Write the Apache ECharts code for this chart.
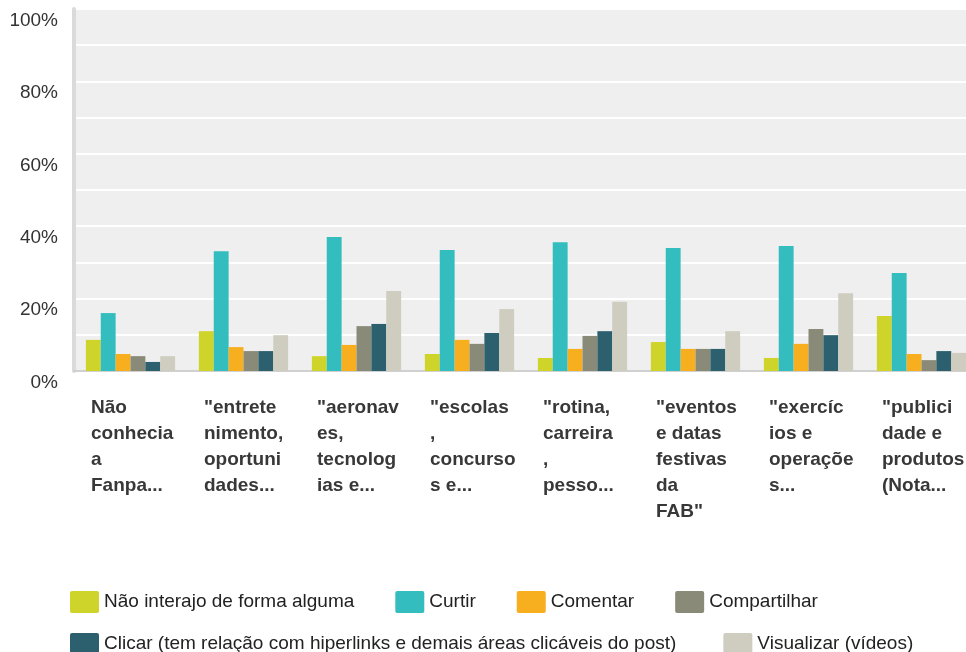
<!DOCTYPE html>
<html>
<head>
<meta charset="utf-8">
<script src="https://cdn.jsdelivr.net/npm/echarts@6/dist/echarts.min.js"></script>
<style>
  html, body { margin: 0; padding: 0; background: #fff; }
  #chart { width: 966px; height: 652px; }
</style>
</head>
<body>
<div id="chart"></div>
<script>
// categories (wrapped as in the original)
var categories = [
    'Não\nconhecia\na\nFanpa...',
    '"entrete\nnimento,\noportuni\ndades...',
    '"aeronav\nes,\ntecnolog\nias e...',
    '"escolas\n,\nconcurso\ns e...',
    '"rotina,\ncarreira\n,\npesso...',
    '"eventos\ne datas\nfestivas\nda\nFAB"',
    '"exercíc\nios e\noperaçõe\ns...',
    '"publici\ndade e\nprodutos\n(Nota...'
]

var seriesNames = [
    'Não interajo de forma alguma',
    'Curtir',
    'Comentar',
    'Compartilhar',
    'Clicar (tem relação com hiperlinks e demais áreas clicáveis do post)',
    'Visualizar (vídeos)'
]

var naoInterajo = [8.6, 11.0, 4.1, 4.7, 3.6, 8.0, 3.6, 15.2]
var curtir = [16.0, 33.1, 37.0, 33.4, 35.6, 34.0, 34.5, 27.1]
var comentar = [4.7, 6.6, 7.2, 8.6, 6.1, 6.1, 7.5, 4.7]
var compartilhar = [4.1, 5.5, 12.4, 7.5, 9.7, 6.1, 11.6, 3.0]
var clicar = [2.5, 5.5, 13.0, 10.5, 11.0, 6.1, 9.9, 5.5]
var visualizar = [4.1, 9.9, 22.1, 17.1, 19.1, 11.0, 21.5, 5.0]

var colors = ['#cfd42a', '#33bdbf', '#f7ae1f', '#8a8a78', '#2d606e', '#cfcdbf']

var font = "'Liberation Sans', Arial, sans-serif"
var boxIcon = 'path://M2,0 H27 Q29,0 29,2 V20 Q29,22 27,22 H2 Q0,22 0,20 V2 Q0,0 2,0 Z'

var allData = [naoInterajo, curtir, comentar, compartilhar, clicar, visualizar]

var chart = echarts.init(document.getElementById('chart'))

var legendText = { fontSize: 19, color: '#222', fontFamily: font }

var option = {
    animation: false,
    color: colors,
    textStyle: { fontFamily: font },
    grid: {
        left: 74,
        top: 9,
        width: 904,
        bottom: 281,
        containLabel: false,
        outerBoundsMode: 'none',
        show: true,
        backgroundColor: '#efefef',
        borderWidth: 0
    },
    legend: [
        {
            data: seriesNames.slice(0, 4),
            left: 70,
            top: 591,
            padding: 0,
            icon: boxIcon,
            itemWidth: 29,
            itemHeight: 22,
            itemGap: 41,
            textStyle: legendText
        },
        {
            data: seriesNames.slice(4),
            left: 70,
            top: 633,
            padding: 0,
            icon: boxIcon,
            itemWidth: 29,
            itemHeight: 22,
            itemGap: 47,
            textStyle: legendText
        }
    ],
    xAxis: [
        {
            type: 'category',
            data: categories,
            axisLine: { show: true, lineStyle: { color: '#d0d0d0', width: 2 } },
            axisTick: { show: false },
            axisLabel: { show: false },
            splitLine: { show: false }
        },
        {
            // label axis: labels start at the left edge of each category
            type: 'category',
            position: 'bottom',
            boundaryGap: false,
            data: categories.concat(['']),
            axisLine: { show: false },
            axisTick: { show: false },
            splitLine: { show: false },
            axisLabel: {
                interval: 0,
                align: 'left',
                verticalAlign: 'top',
                margin: 24,
                padding: [0, 0, 0, 17],
                fontSize: 19,
                fontWeight: 'bold',
                lineHeight: 26,
                color: '#383838',
                fontFamily: font
            }
        }
    ],
    yAxis: {
        type: 'value',
        min: 0,
        max: 100,
        interval: 10,
        axisLine: { show: true, lineStyle: { color: '#dadada', width: 4 } },
        axisTick: { show: false },
        splitLine: { show: true, lineStyle: { color: '#ffffff', width: 2 } },
        axisLabel: {
            margin: 16,
            fontSize: 19,
            color: '#333',
            verticalAlign: 'top',
            padding: [2, 0, 0, 0],
            fontFamily: font,
            formatter: function (v) {
                return v % 20 === 0 ? v + '%' : ''
            }
        }
    },
    series: seriesNames.map(function (name, i) {
        return {
            name: name,
            type: 'bar',
            xAxisIndex: 0,
            data: allData[i],
            barGap: '0%',
            barCategoryGap: '21%'
        }
    })
}

chart.setOption(option)
</script>
</body>
</html>
